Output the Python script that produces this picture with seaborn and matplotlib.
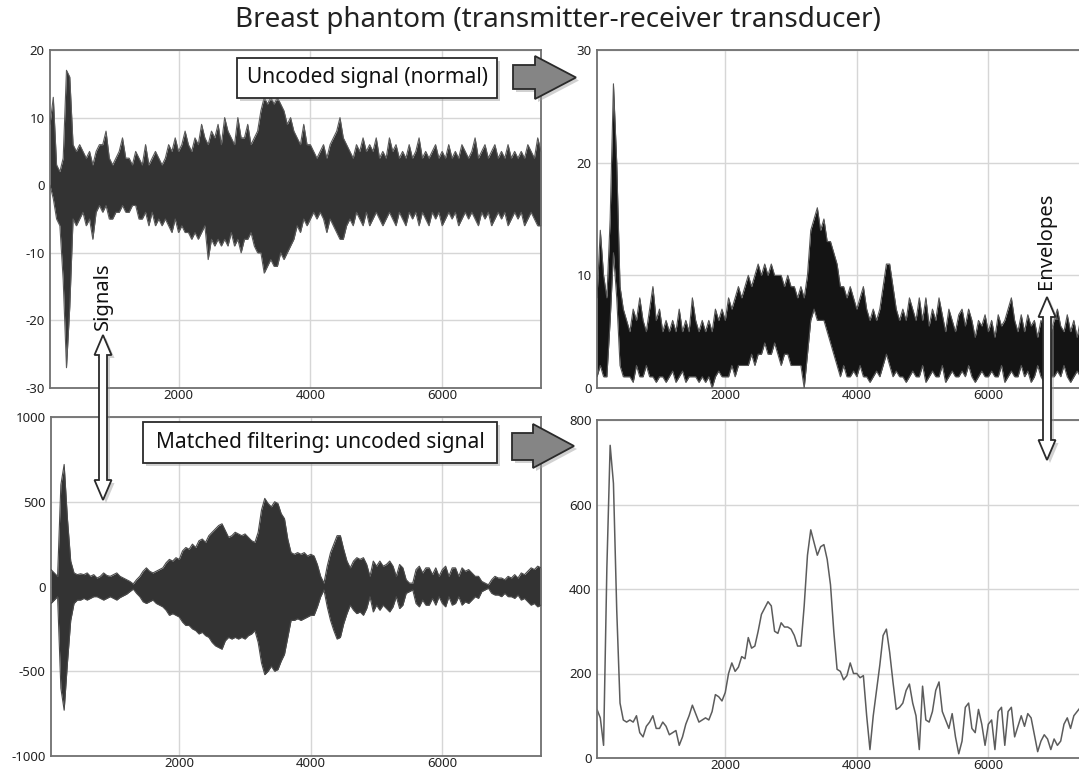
import numpy as np
import matplotlib
matplotlib.use("Agg")
import matplotlib.pyplot as plt
import seaborn as sns
from matplotlib.patches import Rectangle, Polygon

# ---------------------------------------------------------------------------
# Data: sample index of each reading and the signal extremes at that sample
# ---------------------------------------------------------------------------
sample_idx = np.arange(50, 7501, 50)

raw_upper = [
    9, 13, 3, 2, 4, 17, 16, 6, 5, 6,
    5, 4, 5, 3, 5, 6, 6, 8, 4, 3,
    4, 5, 7, 4, 4, 3, 5, 4, 3, 6,
    3, 4, 5, 4, 3, 4, 6, 5, 7, 5,
    6, 8, 6, 5, 7, 6, 9, 7, 6, 8,
    7, 9, 6, 10, 8, 7, 6, 10, 7, 7,
    9, 6, 7, 8, 11, 13, 12, 13, 12, 13,
    12, 11, 9, 10, 8, 7, 6, 9, 6, 6,
    5, 4, 5, 6, 4, 6, 7, 8, 10, 7,
    6, 5, 4, 6, 5, 7, 5, 6, 5, 7,
    4, 5, 4, 7, 5, 6, 4, 5, 4, 6,
    4, 5, 7, 4, 5, 4, 5, 6, 4, 5,
    4, 6, 4, 5, 4, 6, 5, 4, 5, 7,
    4, 5, 6, 4, 5, 6, 4, 5, 4, 6,
    4, 5, 4, 5, 4, 6, 5, 4, 7, 5,
]
raw_lower = [
    0, -2, -5, -6, -14, -27, -18, -5, -6, -5,
    -4, -6, -5, -8, -4, -3, -4, -3, -5, -5,
    -4, -4, -3, -4, -4, -3, -3, -5, -5, -4,
    -6, -4, -6, -5, -6, -5, -6, -7, -5, -7,
    -6, -7, -7, -8, -7, -8, -7, -6, -11, -8,
    -9, -8, -9, -8, -9, -7, -9, -8, -10, -8,
    -8, -7, -9, -10, -10, -13, -12, -11, -12, -12,
    -10, -11, -10, -9, -8, -6, -7, -5, -6, -5,
    -4, -5, -4, -5, -7, -5, -6, -7, -8, -8,
    -6, -5, -6, -4, -5, -6, -4, -6, -5, -4,
    -5, -6, -5, -4, -5, -6, -4, -5, -6, -4,
    -5, -4, -6, -4, -5, -6, -4, -5, -4, -6,
    -5, -4, -5, -4, -6, -5, -4, -5, -4, -5,
    -6, -4, -5, -4, -6, -5, -4, -5, -4, -6,
    -5, -4, -5, -4, -6, -5, -4, -5, -6, -6,
]

raw_env_upper = [
    8, 14, 10, 8, 15, 27, 20, 9, 7, 6,
    5, 7, 6, 8, 6, 5, 7, 9, 6, 7,
    5, 6, 5, 6, 5, 7, 5, 6, 5, 8,
    6, 5, 6, 5, 6, 5, 7, 6, 7, 6,
    8, 7, 8, 9, 8, 9, 10, 9, 10, 11,
    10, 11, 10, 11, 10, 10, 10, 9, 10, 9,
    9, 8, 9, 8, 10, 14, 15, 16, 14, 15,
    13, 13, 12, 11, 9, 9, 8, 9, 8, 7,
    8, 9, 7, 6, 7, 6, 7, 9, 11, 11,
    9, 7, 6, 7, 6, 8, 7, 6, 8, 6,
    8, 5.5, 7, 6, 8, 6.5, 5, 7, 6, 5,
    6.5, 7, 5.5, 7, 6, 4.5, 6, 5.5, 6.5, 5,
    6, 4.5, 6.5, 5.5, 6, 7, 8, 6, 5, 6.5,
    5, 6.5, 5.5, 6, 4.5, 6, 5.5, 6.5, 5, 6,
    7, 5.5, 5, 6.5, 5, 6, 4.5, 6, 5.5, 6,
]
raw_env_lower = [
    1, 2, 1, 1, 6, 12, 8, 2, 1, 1,
    1, 0.5, 2, 1, 1, 2, 1, 1, 0.5, 1,
    1, 0.5, 1, 1.5, 0.5, 1, 1.5, 0.5, 1, 1,
    1, 0.5, 1, 0.5, 1, 0, 1, 1.5, 1, 1,
    1, 2, 1, 2, 2, 2, 2, 3, 2, 3,
    3, 4, 3, 3, 4, 3, 2, 3, 3, 2,
    2, 2, 2, 0, 3, 6, 7, 6, 6, 6,
    5, 4, 3, 2, 1, 2, 1, 1, 1.5, 1,
    2, 1, 1, 0.5, 1, 1.5, 1, 2, 3, 2,
    1, 1.5, 1, 1, 0.5, 1, 1.5, 1, 1, 2,
    0.5, 1, 1.5, 1, 1, 2, 0.5, 1, 1.5, 1,
    1, 1.5, 1, 2, 1, 0.5, 1, 1.5, 1, 1,
    1.5, 1, 1, 2, 0.5, 1, 1.5, 1, 1, 2,
    1, 1.5, 0.5, 1, 2, 1, 0.5, 1.5, 1, 1,
    1.5, 1, 2, 1, 0.5, 1, 1.5, 1, 1, 1.5,
]

mf_upper = [
    100, 80, 60, 600, 720, 400, 150, 80, 70, 75,
    70, 80, 60, 70, 50, 60, 80, 65, 60, 70,
    80, 60, 50, 40, 30, 15, 40, 60, 90, 110,
    90, 80, 90, 100, 110, 140, 160, 150, 170, 160,
    210, 230, 220, 250, 230, 270, 280, 260, 300, 320,
    340, 360, 370, 330, 290, 300, 320, 310, 300, 310,
    290, 270, 260, 320, 450, 520, 490, 470, 500, 490,
    430, 400, 280, 200, 190, 200, 190, 200, 180, 190,
    180, 130, 60, 20, 120, 200, 250, 300, 300, 220,
    150, 110, 150, 170, 160, 170, 130, 60, 150, 120,
    150, 120, 130, 150, 120, 60, 130, 110, 40, 20,
    20, 100, 120, 80, 110, 110, 70, 110, 60, 100,
    120, 60, 110, 110, 60, 110, 90, 100, 80, 60,
    60, 30, 20, 10, 40, 60, 50, 50, 40, 60,
    50, 70, 50, 80, 70, 90, 110, 100, 120, 110,
]
mf_lower = [
    -100, -80, -60, -600, -730, -450, -200, -100, -80, -80,
    -70, -80, -70, -60, -60, -70, -80, -70, -60, -70,
    -80, -65, -55, -45, -30, -15, -40, -60, -90, -100,
    -90, -80, -100, -110, -120, -140, -170, -160, -170, -180,
    -210, -230, -230, -250, -260, -280, -270, -290, -300, -330,
    -350, -360, -370, -320, -300, -310, -300, -310, -300, -310,
    -290, -280, -260, -330, -450, -520, -500, -470, -500, -490,
    -440, -400, -300, -200, -200, -190, -200, -190, -180, -170,
    -170, -120, -60, -20, -120, -200, -260, -310, -300, -220,
    -160, -110, -140, -160, -150, -170, -130, -60, -150, -110,
    -140, -110, -130, -150, -120, -60, -130, -110, -40, -30,
    -20, -100, -120, -80, -110, -110, -70, -110, -60, -100,
    -120, -60, -110, -100, -60, -110, -90, -100, -80, -60,
    -70, -30, -20, -10, -40, -50, -50, -60, -40, -60,
    -60, -70, -50, -80, -70, -90, -110, -100, -120, -110,
]

mf_envelope = [
    115, 95, 30, 450, 740, 650, 350, 130, 90, 85,
    90, 85, 100, 60, 50, 75, 85, 100, 70, 70,
    85, 75, 55, 60, 65, 30, 50, 80, 100, 125,
    105, 85, 90, 95, 90, 110, 150, 145, 135, 155,
    200, 225, 205, 215, 240, 235, 285, 260, 265, 300,
    340, 355, 370, 360, 300, 295, 320, 310, 310, 305,
    290, 265, 265, 360, 480, 540, 510, 480, 500, 505,
    470, 410, 300, 210, 205, 185, 195, 225, 200, 200,
    190, 195, 100, 20, 100, 160, 220, 290, 305, 250,
    180, 115, 120, 130, 160, 175, 130, 100, 20, 170,
    90, 85, 110, 160, 180, 110, 90, 70, 105, 50,
    10, 40, 120, 130, 70, 60, 115, 80, 30, 80,
    90, 20, 110, 120, 30, 110, 120, 50, 75, 100,
    75, 105, 95, 55, 15, 40, 55, 45, 20, 45,
    30, 40, 80, 95, 70, 100, 110, 120, 125, 125,
]

x_ticks = [2000, 4000, 6000]
title = "Breast phantom (transmitter-receiver transducer)"

# ---------------------------------------------------------------------------
# Figure
# ---------------------------------------------------------------------------
sns.set_theme(style="whitegrid")
plt.rcParams["font.family"] = ["Noto Sans", "DejaVu Sans"]
plt.rcParams["axes.unicode_minus"] = False

W, H = 1079, 773
fig = plt.figure(figsize=(W / 100, H / 100), dpi=100)
fig.patch.set_facecolor("white")


def fx(x):
    return x / W


def fy(y):
    return 1 - y / H


def px_rect(x0, y0, x1, y1):
    return [fx(x0), fy(y1), (x1 - x0) / W, (y1 - y0) / H]


ax_tl = fig.add_axes(px_rect(50, 50, 541, 388))
ax_tr = fig.add_axes(px_rect(597, 50, 1087, 388))
ax_bl = fig.add_axes(px_rect(51, 417, 541, 756))
ax_br = fig.add_axes(px_rect(597, 420, 1087, 758))


def style_axes(ax, ylim, yticks):
    ax.set_facecolor("white")
    ax.set_xlim(50, 7500)
    ax.set_ylim(*ylim)
    ax.set_xticks(x_ticks)
    ax.set_yticks(yticks)
    ax.grid(True, color="#d6d6d6", linewidth=1.0)
    ax.set_axisbelow(True)
    for sp in ax.spines.values():
        sp.set_visible(True)
        sp.set_color("#707070")
        sp.set_linewidth(1.3)
    ax.tick_params(axis="both", length=0, labelsize=9.5, colors="#222222")
    ax.tick_params(axis="x", pad=1)
    ax.tick_params(axis="y", pad=4)
    ax.set_xlabel("")
    ax.set_ylabel("")


def draw_band(ax, lo, hi, face, edge):
    ax.fill_between(sample_idx, lo, hi, color=face, linewidth=0, zorder=2)
    sns.lineplot(x=sample_idx, y=hi, ax=ax, color=edge, linewidth=0.8, zorder=3)
    sns.lineplot(x=sample_idx, y=lo, ax=ax, color=edge, linewidth=0.8, zorder=3)


draw_band(ax_tl, raw_lower, raw_upper, "#333333", "#5a5a5a")
style_axes(ax_tl, (-30, 20), [-30, -20, -10, 0, 10, 20])

draw_band(ax_tr, raw_env_lower, raw_env_upper, "#141414", "#555555")
style_axes(ax_tr, (0, 30), [0, 10, 20, 30])

draw_band(ax_bl, mf_lower, mf_upper, "#333333", "#4a4a4a")
style_axes(ax_bl, (-1000, 1000), [-1000, -500, 0, 500, 1000])

sns.lineplot(x=sample_idx, y=mf_envelope, ax=ax_br, color="#5c5c5c", linewidth=1.1)
style_axes(ax_br, (0, 800), [0, 200, 400, 600, 800])

# ---------------------------------------------------------------------------
# Title and callouts
# ---------------------------------------------------------------------------
fig.text(fx(558), fy(20), title, ha="center", va="center", fontsize=20,
         color="#222222")


def label_box(x0, y0, x1, y1, text, size):
    fig.add_artist(Rectangle((fx(x0 + 3), fy(y1 + 3)), (x1 - x0) / W, (y1 - y0) / H,
                             transform=fig.transFigure, facecolor="#9a9a9a",
                             edgecolor="none", alpha=0.45, zorder=5))
    fig.add_artist(Rectangle((fx(x0), fy(y1)), (x1 - x0) / W, (y1 - y0) / H,
                             transform=fig.transFigure, facecolor="white",
                             edgecolor="#2a2a2a", linewidth=1.3, zorder=6))
    fig.text(fx((x0 + x1) / 2), fy((y0 + y1) / 2), text, ha="center", va="center",
             fontsize=size, color="#111111", zorder=7)


def shape(points, face, edge, lw=1.3):
    pts = [(fx(x), fy(y)) for x, y in points]
    shadow = [(fx(x + 3), fy(y + 3)) for x, y in points]
    fig.add_artist(Polygon(shadow, closed=True, transform=fig.transFigure,
                           facecolor="#9a9a9a", edgecolor="none", alpha=0.45, zorder=5))
    fig.add_artist(Polygon(pts, closed=True, transform=fig.transFigure,
                           facecolor=face, edgecolor=edge, linewidth=lw, zorder=6))


def right_arrow(x0, xh, xt, yb0, yb1, yh0, yh1):
    ym = (yh0 + yh1) / 2
    return [(x0, yb0), (xh, yb0), (xh, yh0), (xt, ym), (xh, yh1), (xh, yb1), (x0, yb1)]


def double_arrow(xc, ytop, ybot, head_w=8.5, head_l=20, shaft_w=4):
    return [(xc, ytop), (xc + head_w, ytop + head_l), (xc + shaft_w, ytop + head_l),
            (xc + shaft_w, ybot - head_l), (xc + head_w, ybot - head_l), (xc, ybot),
            (xc - head_w, ybot - head_l), (xc - shaft_w, ybot - head_l),
            (xc - shaft_w, ytop + head_l), (xc - head_w, ytop + head_l)]


label_box(237, 58, 497, 98, "Uncoded signal (normal)", 15)
label_box(143, 422, 497, 463, "Matched filtering: uncoded signal", 15)

shape(right_arrow(513, 535, 576, 65, 89, 56, 99), "#858585", "#2a2a2a")
shape(right_arrow(512, 533, 574, 433, 460, 424, 468), "#858585", "#2a2a2a")

shape(double_arrow(103, 335, 500), "white", "#2a2a2a")
shape(double_arrow(1047, 297, 460), "white", "#2a2a2a")

fig.text(fx(103), fy(296), "Signals", rotation=90, ha="center", va="center",
         fontsize=14.5, color="#111111", zorder=7)
fig.text(fx(1046), fy(241), "Envelopes", rotation=90, ha="center", va="center",
         fontsize=14.5, color="#111111", zorder=7)

fig.savefig("out.png", dpi=100, facecolor="white")
